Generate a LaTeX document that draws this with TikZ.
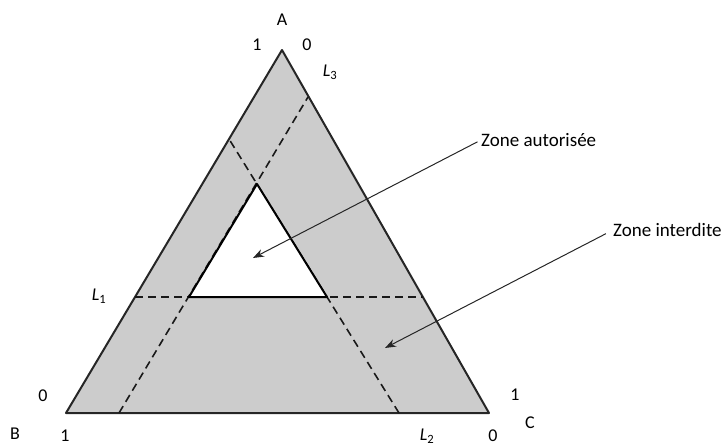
\documentclass[tikz,border=0pt]{standalone}
\usepackage{fontspec}
\setmainfont{Carlito}
\usetikzlibrary{arrows.meta}
\begin{document}
\begin{tikzpicture}[x=1pt,y=-1pt,
  lbl/.style={inner sep=0pt,font=\fontsize{18}{20}\selectfont},
  zlbl/.style={inner sep=0pt,anchor=west,font=\fontsize{19}{22}\selectfont},
  outer/.style={draw=black!85,line width=2pt,line join=round,fill=black!20},
  innertri/.style={draw=black,line width=2pt,line join=round,fill=white},
  dashline/.style={draw=black!90,line width=1.6pt,dash pattern=on 8pt off 5pt},
  arr/.style={draw=black!85,line width=1pt,-{Stealth[length=11pt,width=8pt]}}]
\useasboundingbox (0,0) rectangle (728,447);
% vertices
\coordinate (A) at (282,50);
\coordinate (B) at (66,413);
\coordinate (C) at (489,413);
\coordinate (iA) at (257,184);
\coordinate (iB) at (189,297);
\coordinate (iC) at (327,297);
% dashed line ends
\coordinate (L1a) at (135,297);
\coordinate (L1b) at (423,297);
\coordinate (L3a) at (119,413);
\coordinate (L3b) at (308,97);
\coordinate (L2a) at (399,413);
\coordinate (L2b) at (229,139);
\coordinate (tipA) at (253,258);
\coordinate (tipI) at (385,348);
% shapes
\path[outer] (A) -- (B) -- (C) -- cycle;
\path[dashline] (L1a) -- (L1b);
\path[dashline] (L3a) -- (L3b);
\path[dashline] (L2a) -- (L2b);
\path[innertri] (iA) -- (iB) -- (iC) -- cycle;
% labels
\node[lbl] (lA) at (282,20) {A};
\node[lbl] (lA1) at (257,45) {1};
\node[lbl] (lA0) at (307,45) {0};
\node[lbl] (lL3) at (330,72) {\itshape L\textsubscript{\upshape 3}};
\node[lbl] (lL1) at (99,296) {\itshape L\textsubscript{\upshape 1}};
\node[lbl] (lB0) at (43,396) {0};
\node[lbl] (lB) at (15,434) {B};
\node[lbl] (lB1) at (65,436) {1};
\node[lbl] (lC1) at (515,395) {1};
\node[lbl] (lC) at (530,423) {C};
\node[lbl] (lC0) at (493,436) {0};
\node[lbl] (lL2) at (427,436) {\itshape L\textsubscript{\upshape 2}};
\node[zlbl] (za) at (481,140) {Zone autorisée};
\node[zlbl] (zi) at (613,230) {Zone interdite};
% arrows
\draw[arr,shorten <=4pt] (za.west) -- (tipA);
\draw[arr,shorten <=8pt] (zi.west) -- (tipI);
\end{tikzpicture}
\end{document}
